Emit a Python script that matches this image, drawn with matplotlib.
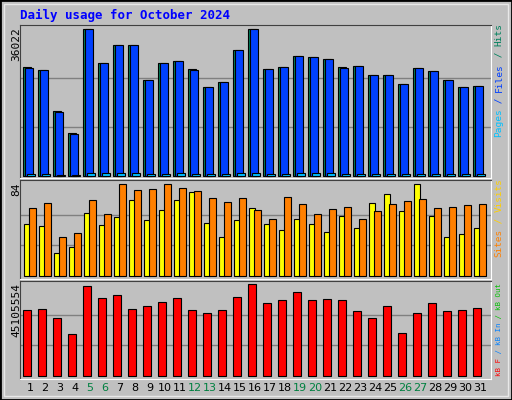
import matplotlib.pyplot as plt
from matplotlib.patches import Rectangle

days = list(range(1, 32))
weekend = [5, 6, 12, 13, 19, 20, 26, 27]

hits = [26705, 25970, 15925, 10535, 36022, 27685, 32095, 32095, 23520, 27685, 28175,
        26215, 21805, 23030, 30870, 36022, 26215, 26705, 29400, 29155, 28665, 26705,
        26950, 24745, 24745, 22540, 26460, 25725, 23520, 21805, 22050]
files = [26460, 25970, 15680, 10290, 36022, 27685, 32095, 32095, 23520, 27685, 28175,
         25970, 21805, 23030, 30870, 36022, 26215, 26705, 29400, 29155, 28665, 26460,
         26950, 24745, 24745, 22540, 26460, 25725, 23520, 21805, 22050]
pages = [600, 580, 350, 250, 800, 620, 700, 700, 520, 610, 630, 580, 480, 510, 690, 800,
         580, 590, 650, 640, 630, 590, 600, 550, 550, 500, 590, 570, 520, 480, 490]
visits = [47.3, 45.5, 20.8, 26.3, 57.4, 46.4, 53.8, 69.3, 51.0, 60.2, 69.3, 76.7, 48.3,
          35.4, 51.0, 62.0, 47.3, 41.9, 51.9, 47.3, 40.0, 54.7, 43.7, 66.6, 74.8, 59.3,
          84.0, 54.7, 35.4, 38.2, 43.7]
sites = [62.0, 66.6, 35.4, 39.1, 69.3, 56.5, 84.0, 78.5, 79.4, 84.0, 80.3, 77.6, 71.2,
         67.5, 71.2, 60.2, 51.9, 72.1, 65.7, 56.5, 61.1, 62.9, 51.9, 59.3, 65.7, 68.4,
         70.3, 62.0, 62.9, 64.8, 65.7]
kbytes = [32.27, 32.76, 28.3, 20.4, 44.1, 38.2, 39.7, 32.76, 34.2, 36.2, 38.2, 32.27,
          30.8, 32.27, 38.7, 45.1, 35.7, 37.2, 41.2, 37.2, 37.7, 37.2, 31.8, 28.3, 34.2,
          20.9, 30.8, 35.7, 31.8, 32.27, 33.3]
kbytes = [v * 1e6 for v in kbytes]

W, H = 512, 400
fig = plt.figure(figsize=(W / 100, H / 100), dpi=100)
fig.patch.set_facecolor('#C0C0C0')
mono = 'DejaVu Sans Mono'

# outer border
fig.add_artist(Rectangle((0, 0), 1, 1, transform=fig.transFigure, fill=False,
                         edgecolor='black', lw=2))
fig.add_artist(Rectangle((4 / W, 4 / H), 1 - 8 / W, 1 - 8 / H, transform=fig.transFigure,
                         fill=False, edgecolor='#E8E8E8', lw=1))

fig.text(20 / W, 1 - 15 / H, 'Daily usage for October 2024', color='#0000FF',
         fontsize=9, fontweight='bold', family=mono, va='center')


def panel(top, bottom, bar_bottom, max_px, maxval):
    ax = fig.add_axes([20 / W, 1 - bottom / H, 471 / W, (bottom - top) / H])
    scale = maxval / (bar_bottom - max_px)
    ax.set_ylim(-(bottom - bar_bottom) * scale, (bar_bottom - top) * scale)
    ax.set_xlim(1 - 10 / 15, 1 + 461 / 15)
    ax.set_facecolor('#C0C0C0')
    for g in (maxval / 3, 2 * maxval / 3):
        ax.axhline(g, color='#808080', lw=1, zorder=0)
    ax.set_xticks([])
    ax.set_yticks([])
    for s in ('top', 'left'):
        ax.spines[s].set_color('#404040')
    for s in ('bottom', 'right'):
        ax.spines[s].set_color('white')
    fig.text(16 / W, 1 - (top + 2) / H, f'{maxval:.0f}', rotation=90, va='top',
             ha='center', fontsize=8, family=mono)
    return ax


ax1 = panel(25, 178, 176, 29, 36022)
ax1.bar([d - 0.2 for d in days], hits, width=0.53, color='#00805C', edgecolor='black', lw=0.8)
ax1.bar([d - 0.07 for d in days], files, width=0.53, color='#0040FF', edgecolor='black', lw=0.8)
ax1.bar([d + 0.07 for d in days], pages, width=0.53, color='#00C0FF', edgecolor='black', lw=0.8)

ax2 = panel(180, 279, 276, 184, 84)
ax2.bar([d - 0.17 for d in days], visits, width=0.4, color='#FFFF00', edgecolor='black', lw=0.8)
ax2.bar([d + 0.17 for d in days], sites, width=0.45, color='#FF8000', edgecolor='black', lw=0.8)

ax3 = panel(281, 379, 376, 284, 45105554)
ax3.bar([d - 0.2 for d in days], kbytes, width=0.5, color='#FF0000', edgecolor='black', lw=0.8)

for d in days:
    x = (30 + 15 * (d - 1)) / W
    fig.text(x, 1 - 388 / H, str(d), ha='center', va='center', fontsize=8, family='DejaVu Sans',
             color='#008040' if d in weekend else 'black')


def side_label(parts, y_bottom, size):
    y = y_bottom
    adv = size * 100 / 72 * 0.602
    for txt, col in parts:
        fig.text(499 / W, y / H, txt, rotation=90, color=col, fontsize=size,
                 family=mono, ha='center', va='bottom')
        y += len(txt) * adv


side_label([('Pages', '#00C0FF'), (' / ', '#0040FF'), ('Files', '#0040FF'),
            (' / ', '#00805C'), ('Hits', '#00805C')], H - 137, 6.8)
side_label([('Sites', '#FF8000'), (' / ', '#FFD000'), ('Visits', '#FFD000')], H - 257, 6.7)
side_label([('kB F', '#FF0000'), (' / ', '#0080FF'), ('kB In', '#0080FF'),
            (' / ', '#00C000'), ('kB Out', '#00C000')], H - 376, 5.3)

fig.savefig('out.png', dpi=100, facecolor=fig.get_facecolor())
